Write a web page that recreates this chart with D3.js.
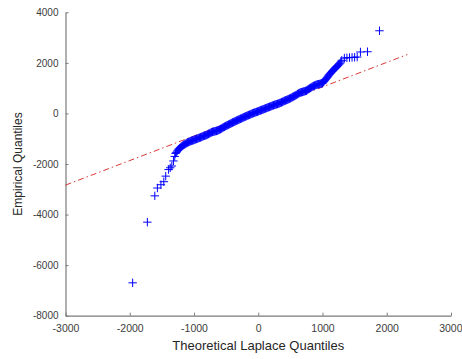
<!DOCTYPE html>
<html>
<head>
<meta charset="utf-8">
<script src="https://cdn.jsdelivr.net/npm/d3@7"></script>
<style>
    body { margin: 0; background: #fff; }
    text { font-family: "Liberation Sans", Arial, sans-serif; }
</style>
</head>
<body>
<svg id="qq" width="462" height="359"></svg>
<script>
// theoretical laplace quantiles (x) and empirical quantiles (y)
// left tail, dense band, right tail
const theoreticalQuantiles = [
    -1955, -1726, -1610, -1570, -1515, -1470, -1440, -1395, -1370, -1345, -1320, -1300,
    -1287, -1275, -1262, -1250, -1237, -1225, -1212, -1200, -1187, -1175, -1162, -1150,
    -1137, -1125, -1112, -1100, -1087, -1075, -1062, -1050, -1037, -1025, -1012, -1000,
    -987, -975, -962, -950, -937, -925, -912, -900, -887, -875, -862, -850,
    -837, -825, -812, -800, -787, -775, -762, -750, -737, -725, -712, -700,
    -687, -675, -662, -650, -637, -625, -612, -600, -587, -575, -562, -550,
    -537, -525, -512, -500, -487, -475, -462, -450, -437, -425, -412, -400,
    -387, -375, -362, -350, -337, -325, -312, -300, -287, -275, -262, -250,
    -237, -225, -212, -200, -187, -175, -162, -150, -137, -125, -112, -100,
    -87, -75, -62, -50, -37, -25, -12, 0, 12, 25, 37, 50,
    62, 75, 87, 100, 112, 125, 137, 150, 162, 175, 187, 200,
    212, 225, 237, 250, 262, 275, 287, 300, 312, 325, 337, 350,
    362, 375, 387, 400, 412, 425, 437, 450, 462, 475, 487, 500,
    512, 525, 537, 550, 562, 575, 587, 600, 612, 625, 637, 650,
    662, 675, 687, 700, 712, 725, 737, 750, 762, 775, 787, 800,
    812, 825, 837, 850, 862, 875, 887, 900, 912, 925, 937, 950,
    962, 975, 987, 1000, 1012, 1025, 1037, 1050, 1062, 1075, 1087, 1100,
    1112, 1125, 1137, 1150, 1162, 1175, 1187, 1200, 1212, 1225, 1237, 1250,
    1262, 1275, 1287,
    1300, 1340, 1380, 1420, 1460, 1500, 1540, 1590, 1700, 1887
];
const empiricalQuantiles = [
    -6700, -4300, -3260, -2950, -2820, -2700, -2480, -2220, -2150, -2080, -1880, -1700,
    -1580, -1540, -1490, -1450, -1410, -1380, -1350, -1320, -1295, -1270, -1250, -1230,
    -1210, -1190, -1170, -1150, -1135, -1120, -1105, -1090, -1080, -1070, -1060, -1050,
    -1035, -1020, -1010, -1000, -985, -970, -960, -950, -935, -920, -905, -890,
    -880, -870, -860, -850, -830, -810, -795, -780, -760, -745, -730, -720,
    -712, -705, -698, -690, -678, -665, -652, -640, -620, -600, -580, -560,
    -542, -525, -508, -490, -475, -460, -442, -425, -410, -395, -378, -360,
    -345, -330, -315, -300, -285, -270, -255, -240, -225, -210, -195, -180,
    -165, -150, -135, -120, -108, -95, -80, -65, -52, -40, -25, -10,
    2, 15, 28, 40, 50, 60, 72, 85, 98, 110, 122, 135,
    148, 160, 172, 185, 198, 210, 222, 235, 248, 260, 272, 285,
    298, 310, 322, 335, 345, 355, 365, 375, 388, 400, 412, 425,
    440, 455, 472, 490, 502, 515, 528, 540, 555, 570, 585, 600,
    618, 635, 652, 670, 688, 705, 722, 740, 765, 790, 805, 820,
    830, 840, 850, 860, 870, 880, 890, 900, 925, 950, 970, 990,
    1010, 1030, 1050, 1070, 1085, 1100, 1115, 1130, 1140, 1150, 1155, 1160,
    1170, 1180, 1190, 1200, 1235, 1270, 1310, 1350, 1390, 1430, 1475, 1520,
    1555, 1590, 1625, 1660, 1695, 1730, 1765, 1800, 1830, 1860, 1890, 1920,
    1955, 1990, 2040,
    2100, 2190, 2200, 2210, 2215, 2220, 2230, 2430, 2440, 3270
];
// reference line through the quartiles, drawn as dash-dot
const refLineX = [-3000, 2320];
const refLineY = [-2835, 2330];

const xTicks = [-3000, -2000, -1000, 0, 1000, 2000, 3000];
const yTicks = [-8000, -6000, -4000, -2000, 0, 2000, 4000];

const svg = d3.select('#qq');
const plotLeft = 65.5, plotRight = 451, plotTop = 12.3, plotBottom = 315.7;

const x = d3.scaleLinear().domain([-3000, 3000]).range([plotLeft, plotRight]);
const y = d3.scaleLinear().domain([-8000, 4000]).range([plotBottom, plotTop]);

const axisColor = "#7a7a7a";
const textColor = "#3c3c3c";
const plainNumber = function(d) { return String(d); };

// axes (ticks point inward, like matlab)
const xAxis = svg.append("g")
    .attr("transform", "translate(0," + plotBottom + ")")
    .call(d3.axisBottom(x).tickValues(xTicks).tickFormat(plainNumber)
        .tickSizeInner(-3).tickSizeOuter(0).tickPadding(9));
const yAxis = svg.append("g")
    .attr("transform", "translate(" + plotLeft + ",0)")
    .call(d3.axisLeft(y).tickValues(yTicks).tickFormat(plainNumber)
        .tickSizeInner(-3).tickSizeOuter(0).tickPadding(7));

[xAxis, yAxis].forEach(function(ax) {
    ax.select(".domain").attr("stroke", axisColor).attr("stroke-width", 1.2);
    ax.selectAll(".tick line").attr("stroke", axisColor);
    ax.selectAll(".tick text")
        .attr("fill", textColor)
        .style("font-family", "'Liberation Sans', Arial, sans-serif");
});
xAxis.selectAll(".tick text").style("font-size", "10.5px");
yAxis.selectAll(".tick text").style("font-size", "10px");
// last x label sits right at the edge of the figure
xAxis.selectAll(".tick text").filter(function(d) { return d === 3000; })
    .attr("text-anchor", "end")
    .attr("dx", "11");

// reference line
svg.append("line")
    .attr("x1", x(refLineX[0]))
    .attr("y1", y(refLineY[0]))
    .attr("x2", x(refLineX[1]))
    .attr("y2", y(refLineY[1]))
    .attr("stroke", "#d42020")
    .attr("stroke-width", 0.9)
    .attr("stroke-dasharray", "6,3,1.5,3");

// data markers as '+'
const points = theoreticalQuantiles.map(function(v, i) {
    return [v, empiricalQuantiles[i]];
});
const markerHalf = 4.2;
svg.append("g")
    .selectAll("path")
    .data(points)
    .enter()
    .append("path")
    .attr("d", function(d) {
        const px = x(d[0]), py = y(d[1]);
        return "M" + (px - markerHalf) + "," + py + "H" + (px + markerHalf)
            + "M" + px + "," + (py - markerHalf) + "V" + (py + markerHalf);
    })
    .attr("stroke", "#0000ff")
    .attr("stroke-width", 1)
    .attr("fill", "none");

// axis labels
svg.append("text")
    .attr("x", (plotLeft + plotRight) / 2)
    .attr("y", 350)
    .attr("text-anchor", "middle")
    .attr("fill", "#262626")
    .style("font-size", "13px")
    .text("Theoretical Laplace Quantiles");

svg.append("text")
    .attr("transform", "translate(22," + ((plotTop + plotBottom) / 2) + ") rotate(-90)")
    .attr("text-anchor", "middle")
    .attr("fill", "#262626")
    .style("font-size", "12px")
    .text("Empirical Quantiles");
</script>
</body>
</html>
